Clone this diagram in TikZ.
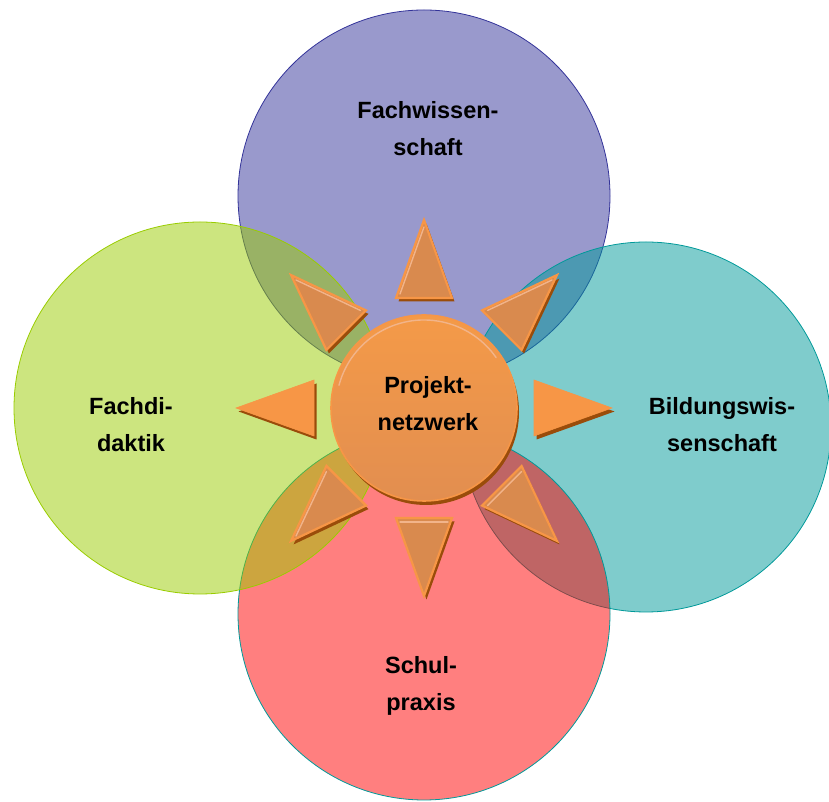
\documentclass[tikz,border=0pt]{standalone}
\usepackage{fontspec}
\setmainfont{Liberation Sans}
\usepackage{tikz}
\usetikzlibrary{positioning}
\newcommand\Ray{188}
\newcommand\Base{110}
\newcommand\Half{28}
\tikzset{
  bubble/.style={
    shape = circle,
    inner sep = 0pt,
    minimum size = 372pt,
    fill opacity = 0.5,
    line width = 0.8pt
  },
}
\tikzset{
  hub/.style={
    shape = circle,
    inner sep = 0pt,
    minimum size = 186pt,
    top color = hubtop,
    bottom color = hubbottom,
    draw = rayedge,
    line width = 1.6pt
  },
}
\tikzset{
  word/.style={
    align = center,
    text = black,
    font = \fontsize{23.5}{37}\selectfont\bfseries
  },
  ray/.style={
    fill = raybody,
    draw = rayedge,
    line width = 2.2pt,
    line join = miter
  },
  rayflat/.style={
    fill = rayedge,
    draw = rayedge,
    line width = 0.6pt
  },
  rayshadow/.style={
    fill = shadowbrown
  },
  shine/.style={
    draw = shinecol,
    line width = 1.4pt,
    line cap = round
  }
}
\definecolor{purplebase}{HTML}{333399}
\definecolor{greenbase}{HTML}{99CC00}
\definecolor{tealbase}{HTML}{009999}
\definecolor{redbase}{HTML}{FF0000}
\definecolor{hubtop}{HTML}{F49A48}
\definecolor{hubbottom}{HTML}{E28E50}
\definecolor{raybody}{HTML}{D98A4E}
\definecolor{rayedge}{HTML}{F79646}
\definecolor{shadowbrown}{HTML}{9A4C0A}
\definecolor{shinecol}{HTML}{F2B48A}

\begin{document}
\begin{tikzpicture}[x=1pt,y=1pt]
\useasboundingbox (0,0) rectangle (829,802);
\def\cx{424}
\def\cy{394}

       % the four fields, back to front
       \node[bubble, fill=purplebase, draw=purplebase] (fachwissen) at (424,606) {};
       \node[bubble, minimum size=370pt, fill=tealbase, draw=tealbase] (bildung) at (646,375) {};
       \node[bubble, fill=redbase, draw=tealbase] (schulpraxis) at (424,188) {};
       \node[bubble, fill=greenbase, draw=greenbase] (fachdidaktik) at (200,394) {};

       \node[word] (fwlabel) at (428,673) {Fachwissen-\\schaft};
       \node[word] (fdlabel) at (131,377) {Fachdi-\\daktik};
       \node[word] (bwlabel) at (722,377) {Bildungswis-\\senschaft};
       \node[word] (splabel) at (421,116) {Schul-\\praxis};

       % rays with a bevel edge
       \foreach \a/\px/\py/\qx/\qy in {90/181/0/114/24, 45/181/0/114/24, 135/181/0/114/-24,
                                       -135/181/0/114/-24, -90/114/24/114/-24, -45/114/24/114/-24}{
         \fill[rayshadow, shift={(\cx+2.5,\cy-3.5)}, rotate=\a] (\Ray,0) -- (\Base,\Half) -- (\Base,-\Half) -- cycle;
         \draw[ray, shift={(\cx,\cy)}, rotate=\a] (\Ray,0) -- (\Base,\Half) -- (\Base,-\Half) -- cycle;
         \draw[shine, shift={(\cx,\cy)}, rotate=\a] (\px,\py) -- (\qx,\qy);
       }

       % rays to the sides
       \foreach \a in {0,180}{
         \fill[rayshadow, shift={(\cx+2.5,\cy-3.5)}, rotate=\a] (\Ray,0) -- (\Base,\Half) -- (\Base,-\Half) -- cycle;
         \draw[rayflat, shift={(\cx,\cy)}, rotate=\a] (\Ray,0) -- (\Base,\Half) -- (\Base,-\Half) -- cycle;
       }

       \fill[rayshadow] (\cx+2,\cy-4) circle[radius=93];
       \node[hub] (netzwerk) at (\cx,\cy) {};
       \draw[shine, shift={(\cx,\cy)}] (165:88) arc[start angle=165, end angle=35, radius=88];

       \node[word] (nwlabel) at (428,398) {Projekt-\\netzwerk};

\end{tikzpicture}
\end{document}
